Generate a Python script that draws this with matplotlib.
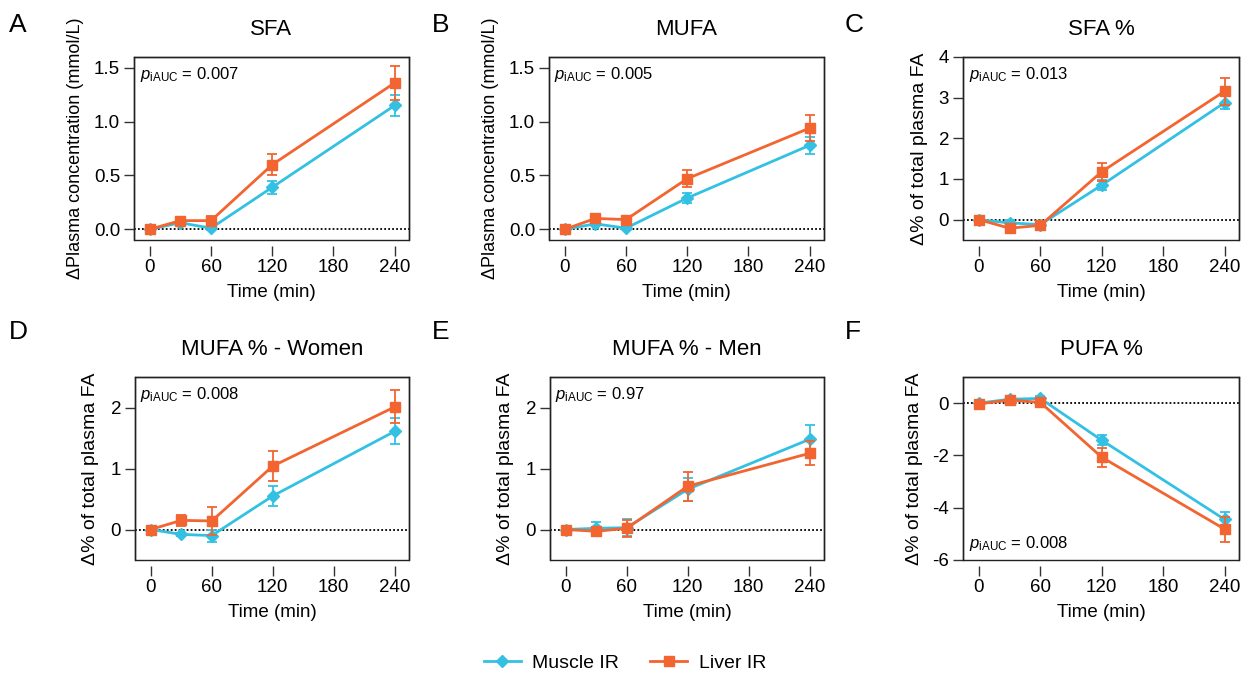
import matplotlib
matplotlib.use("Agg")
import matplotlib.pyplot as plt
from matplotlib.patches import Rectangle
from matplotlib.lines import Line2D

plt.rcParams['font.family'] = ['Liberation Sans', 'DejaVu Sans']
plt.rcParams['mathtext.fontset'] = 'custom'
plt.rcParams['mathtext.rm'] = 'Liberation Sans'
plt.rcParams['mathtext.it'] = 'Liberation Sans:italic'

times = [0, 30, 60, 120, 240]

sfa_muscle = [0.00, 0.06, 0.01, 0.39, 1.15]
sfa_muscle_err = [0.02, 0.02, 0.02, 0.06, 0.10]
sfa_liver = [0.00, 0.08, 0.08, 0.60, 1.36]
sfa_liver_err = [0.01, 0.02, 0.04, 0.10, 0.16]

mufa_muscle = [0.00, 0.05, 0.01, 0.29, 0.78]
mufa_muscle_err = [0.01, 0.01, 0.01, 0.05, 0.08]
mufa_liver = [0.00, 0.10, 0.09, 0.47, 0.94]
mufa_liver_err = [0.01, 0.02, 0.03, 0.08, 0.12]

sfap_muscle = [0.00, -0.08, -0.12, 0.85, 2.88]
sfap_muscle_err = [0.08, 0.06, 0.06, 0.12, 0.17]
sfap_liver = [0.00, -0.21, -0.14, 1.18, 3.16]
sfap_liver_err = [0.05, 0.05, 0.06, 0.22, 0.33]

mufaw_muscle = [0.00, -0.08, -0.10, 0.55, 1.61]
mufaw_muscle_err = [0.03, 0.03, 0.10, 0.17, 0.21]
mufaw_liver = [0.00, 0.15, 0.14, 1.04, 2.01]
mufaw_liver_err = [0.02, 0.09, 0.23, 0.24, 0.27]

mufam_muscle = [0.00, 0.02, 0.03, 0.66, 1.48]
mufam_muscle_err = [0.05, 0.10, 0.14, 0.19, 0.23]
mufam_liver = [0.00, -0.03, 0.02, 0.71, 1.25]
mufam_liver_err = [0.02, 0.07, 0.14, 0.24, 0.20]

pufa_muscle = [0.00, 0.15, 0.18, -1.42, -4.45]
pufa_muscle_err = [0.05, 0.08, 0.08, 0.20, 0.30]
pufa_liver = [-0.03, 0.12, 0.03, -2.07, -4.82]
pufa_liver_err = [0.05, 0.08, 0.12, 0.36, 0.48]

letters = ['A', 'B', 'C', 'D', 'E', 'F']
titles = ['SFA', 'MUFA', 'SFA %', 'MUFA % - Women', 'MUFA % - Men', 'PUFA %']
ylabels = ['ΔPlasma concentration (mmol/L)', 'ΔPlasma concentration (mmol/L)',
           'Δ% of total plasma FA', 'Δ% of total plasma FA',
           'Δ% of total plasma FA', 'Δ% of total plasma FA']
pvals = ['0.007', '0.005', '0.013', '0.008', '0.97', '0.008']
xticks = [0, 60, 120, 180, 240]

muscle_sets = [(sfa_muscle, sfa_muscle_err), (mufa_muscle, mufa_muscle_err),
               (sfap_muscle, sfap_muscle_err), (mufaw_muscle, mufaw_muscle_err),
               (mufam_muscle, mufam_muscle_err), (pufa_muscle, pufa_muscle_err)]
liver_sets = [(sfa_liver, sfa_liver_err), (mufa_liver, mufa_liver_err),
              (sfap_liver, sfap_liver_err), (mufaw_liver, mufaw_liver_err),
              (mufam_liver, mufam_liver_err), (pufa_liver, pufa_liver_err)]

ylims = [(-0.1, 1.6), (-0.1, 1.6), (-0.5, 4), (-0.5, 2.5), (-0.5, 2.5), (-6, 1)]
yticks = [[0.0, 0.5, 1.0, 1.5], [0.0, 0.5, 1.0, 1.5], [0, 1, 2, 3, 4],
          [0, 1, 2], [0, 1, 2], [-6, -4, -2, 0]]
yfmt = ['{:.1f}', '{:.1f}', '{:d}', '{:d}', '{:d}', '{:d}']

C_MUSCLE = '#33C1E3'
C_LIVER = '#F26430'

W, H = 1250, 677
fig = plt.figure(figsize=(W / 100, H / 100), dpi=100)

# axes boxes in pixels: (left, top, right, bottom)
boxes = [(134, 57, 409, 240), (549, 57, 824, 240), (963, 57, 1239, 240),
         (135, 377, 409, 560), (550, 377, 824, 560), (963, 377, 1239, 560)]
ylab_x = [-0.182, -0.182, -0.127, -0.131, -0.131, -0.145]
ylab_fs = [13, 13, 14, 14, 14, 14]
ptext_pos = ['top'] * 5 + ['bottom']
letter_xy = [(9, 32), (432, 32), (845, 32), (9, 339), (432, 339), (845, 339)]

FS = 13.5
for i in range(6):
    l, t, r, b = boxes[i]
    ax = fig.add_axes([l / W, 1 - b / H, (r - l) / W, (b - t) / H])
    m, me = muscle_sets[i]
    lv, le = liver_sets[i]
    ax.axhline(0, color='black', ls=(0, (1, 1.2)), lw=1.3, zorder=1)
    ax.errorbar(times, m, yerr=me, color=C_MUSCLE, marker='D', ms=6.5,
                lw=2.0, elinewidth=1.3, capsize=3.5, capthick=1.3,
                zorder=3, clip_on=False)
    ax.errorbar(times, lv, yerr=le, color=C_LIVER, marker='s', ms=7,
                lw=2.0, elinewidth=1.3, capsize=3.5, capthick=1.3,
                zorder=4, clip_on=False)
    ax.set_xlim(-15.5, 254)
    ax.set_ylim(*ylims[i])
    ax.set_xticks(xticks)
    ax.set_yticks(yticks[i])
    ax.set_yticklabels([yfmt[i].format(v) for v in yticks[i]])
    for s in ['top', 'right', 'left']:
        ax.spines[s].set_linewidth(1.0)
        ax.spines[s].set_color('#222222')
    ax.spines['bottom'].set_position(('outward', 4))
    ax.spines['bottom'].set_visible(False)
    ax.add_patch(Rectangle((0, 0), 1, 1, transform=ax.transAxes, fill=False,
                           lw=1.0, edgecolor='#222222', clip_on=False, zorder=5))
    ax.tick_params(axis='x', direction='out', length=7, width=1.0,
                   color='#333333', labelsize=FS, pad=3)
    ax.tick_params(axis='y', direction='out', length=7, width=1.0,
                   color='#333333', labelsize=FS, pad=3)
    ax.set_xlabel('Time (min)', fontsize=FS)
    ax.xaxis.set_label_coords(0.5, -0.24)
    ax.xaxis.label.set_va('top')
    ax.set_ylabel(ylabels[i], fontsize=ylab_fs[i])
    ax.yaxis.set_label_coords(ylab_x[i], 0.5)
    ax.set_title(titles[i], fontsize=16, pad=16)
    ptxt = r'$p_{\mathrm{iAUC}}$' + ' = ' + pvals[i]
    if ptext_pos[i] == 'top':
        ax.text(0.02, 0.905, ptxt, transform=ax.transAxes, fontsize=12,
                va='center', ha='left')
    else:
        ax.text(0.02, 0.09, ptxt, transform=ax.transAxes, fontsize=12,
                va='center', ha='left')
    lx, ly = letter_xy[i]
    fig.text(lx / W, 1 - ly / H, letters[i], fontsize=19, ha='left',
             va='baseline')

leg_handles = [Line2D([], [], color=C_MUSCLE, marker='D', ms=6.5, lw=2.0),
               Line2D([], [], color=C_LIVER, marker='s', ms=7, lw=2.0)]
fig.legend(leg_handles, ['Muscle IR', 'Liver IR'], loc='center',
           bbox_to_anchor=(0.5, 1 - 663 / H), ncol=2, frameon=False,
           fontsize=14, handlelength=1.9, columnspacing=1.6, handletextpad=0.6)

fig.savefig('out.png', dpi=100)
